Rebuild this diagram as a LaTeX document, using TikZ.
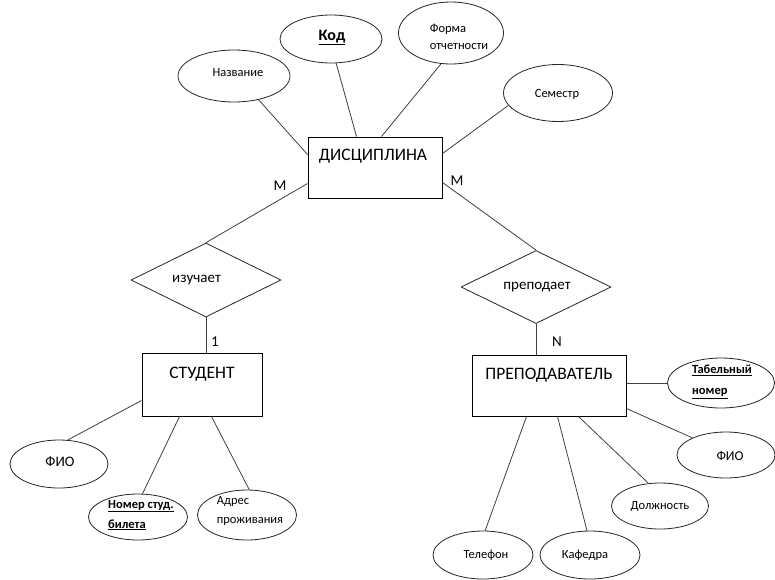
\documentclass[tikz,border=0pt]{standalone}
\usepackage{fontspec}
\setmainfont{Carlito}
\usetikzlibrary{shapes.geometric,calc}
\begin{document}
\begin{tikzpicture}[x=1pt,y=-1pt,
  ent/.style={draw=black,line width=1pt,rectangle,inner sep=0pt},
  attr/.style={draw=black!85,line width=0.8pt,ellipse,inner sep=0pt},
  rel/.style={draw=black!85,line width=0.8pt,diamond,inner sep=0pt},
  conn/.style={draw=black!75,line width=0.8pt},
  lab/.style={anchor=center,inner sep=0pt,font=\fontsize{12.5}{15}\selectfont},
  elab/.style={anchor=center,inner sep=0pt,font=\fontsize{17.5}{20}\selectfont},
  rlab/.style={anchor=center,inner sep=0pt,font=\fontsize{15}{18}\selectfont},
  card/.style={inner sep=0pt,font=\fontsize{15}{18}\selectfont}
]
\fill[white] (0,0) rectangle (775,579);
\useasboundingbox (0,0) rectangle (775,579);

% entities
\node[ent,minimum width=134,minimum height=61,
  label={[elab,xshift=-2pt,yshift=11pt]center:ДИСЦИПЛИНА}] (dis) at (375,167.5) {};
\node[ent,minimum width=120,minimum height=63,
  label={[elab,yshift=10pt]center:СТУДЕНТ}] (stu) at (202,384.5) {};
\node[ent,minimum width=154,minimum height=61,
  label={[elab,yshift=10.5pt]center:ПРЕПОДАВАТЕЛЬ}] (tea) at (549,385.5) {};

% relationships
\node[rel,minimum width=150,minimum height=74,
  label={[rlab,xshift=-9.5pt]center:изучает}] (izu) at (206,280) {};
\node[rel,minimum width=150,minimum height=73,
  label={[rlab,xshift=1pt]center:преподает}] (pre) at (536,287) {};

% attributes of ДИСЦИПЛИНА
\node[attr,minimum width=112,minimum height=52,
  label={[lab,xshift=4pt,yshift=3pt]center:Название}] (nazv) at (234,76) {};
\node[attr,minimum width=102,minimum height=48,
  label={[lab,font=\fontsize{16}{19}\selectfont\bfseries,xshift=1pt,yshift=1.5pt]center:\underline{Код}}] (kod) at (331,39) {};
\node[attr,minimum width=105,minimum height=62,
  label={[lab,align=left,font=\fontsize{12.5}{17}\selectfont,xshift=8pt,yshift=-3.5pt]center:Форма\\отчетности}] (forma) at (451,33) {};
\node[attr,minimum width=109,minimum height=57,
  label={[lab,xshift=-1pt,yshift=-1pt]center:Семестр}] (sem) at (558,93) {};

% attributes of СТУДЕНТ
\node[attr,minimum width=98,minimum height=48,
  label={[lab,font=\fontsize{14.5}{17}\selectfont,xshift=1pt,yshift=2pt]center:ФИО}] (fio1) at (59,464) {};
\node[attr,minimum width=99,minimum height=46,
  label={[lab,align=left,font=\fontsize{12.5}{20}\selectfont\bfseries,xshift=3pt,yshift=2pt]center:\underline{Номер студ.}\\\underline{билета}}] (nomer) at (138,517) {};
\node[attr,minimum width=99,minimum height=50,
  label={[lab,align=left,font=\fontsize{12.5}{19}\selectfont,xshift=3pt,yshift=4pt]center:Адрес\\проживания}] (adres) at (247,515) {};

% attributes of ПРЕПОДАВАТЕЛЬ
\node[attr,minimum width=107,minimum height=50,
  label={[lab,align=left,font=\fontsize{12.5}{21}\selectfont\bfseries,xshift=1pt,yshift=1pt]center:\underline{Табельный}\\\underline{номер}}] (tab) at (721,383) {};
\node[attr,minimum width=98,minimum height=46,
  label={[lab,font=\fontsize{13.5}{16}\selectfont,xshift=4pt,yshift=-1pt]center:ФИО}] (fio2) at (726,455) {};
\node[attr,minimum width=97,minimum height=46,
  label={[lab]center:Должность}] (dolzh) at (660,506) {};
\node[attr,minimum width=100,minimum height=48,
  label={[lab,xshift=3pt]center:Телефон}] (tel) at (483,555) {};
\node[attr,minimum width=100,minimum height=48,
  label={[lab,xshift=-5pt]center:Кафедра}] (kaf) at (590,555) {};

% connectors: ДИСЦИПЛИНА
\draw[conn] (nazv.-44) -- ($(dis.north west)+(0,18)$);
\draw[conn] (kod.-78) -- ($(dis.north west)+(49,0)$);
\draw[conn] (forma.-108) -- ($(dis.north west)+(74,0)$);
\draw[conn] (sem.-166) -- ($(dis.north east)+(0,17)$);

% connectors: relationships
\draw[conn] ($(dis.south west)+(0,-15)$) -- (izu.north);
\draw[conn] ($(dis.south east)+(0,-16)$) -- (pre.north);
\draw[conn] (izu.south) -- (izu.south |- stu.north);
\draw[conn] (pre.south) -- (pre.south |- tea.north);

% cardinalities
\node[card] (cm1) at (280,186) {M};
\node[card] (cm2) at (457,181) {M};
\node[card] (c1) at (215,342) {1};
\node[card] (cn) at (557,342) {N};

% connectors: СТУДЕНТ
\draw[conn] (fio1.70) -- ($(stu.north west)+(0,48)$);
\draw[conn] (nomer.79) -- ($(stu.south west)+(38,0)$);
\draw[conn] (adres.85) -- ($(stu.south west)+(70,0)$);

% connectors: ПРЕПОДАВАТЕЛЬ
\draw[conn] (tab.west) -- (tab.west -| tea.east);
\draw[conn] (fio2.153) -- ($(tea.north east)+(0,54)$);
\draw[conn] (dolzh.117) -- ($(tea.south west)+(107,0)$);
\draw[conn] (kaf.97) -- ($(tea.south west)+(86,0)$);
\draw[conn] (tel.85) -- ($(tea.south west)+(55,0)$);
\end{tikzpicture}
\end{document}
